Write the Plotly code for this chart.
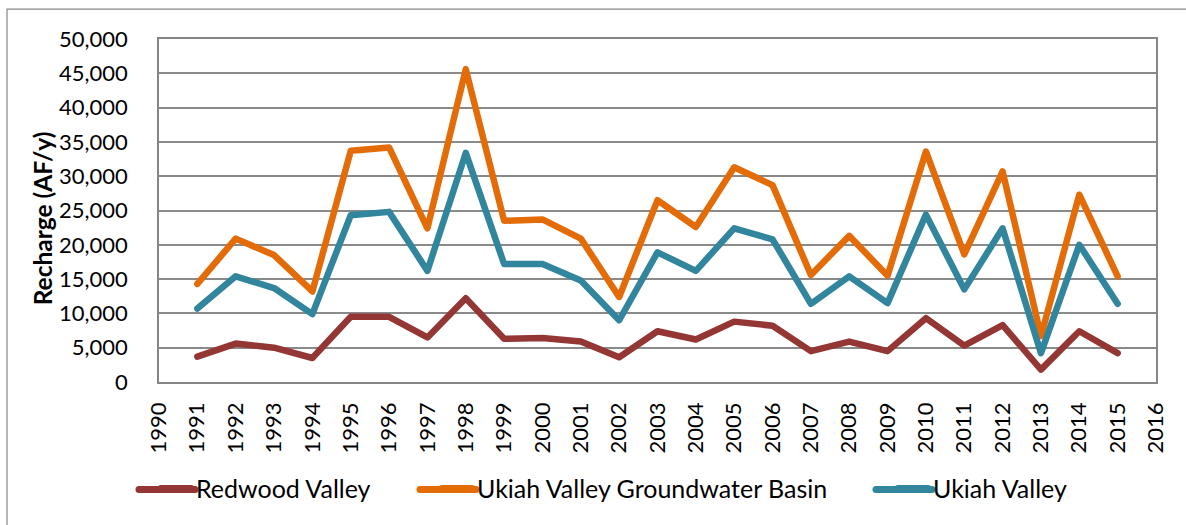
import plotly.graph_objects as go

years = list(range(1991, 2016))
redwood = [3700, 5600, 5000, 3500, 9500, 9500, 6500, 12200, 6300, 6400, 5900, 3600,
           7400, 6200, 8800, 8200, 4500, 5900, 4500, 9300, 5300, 8300, 1800, 7400, 4200]
ukiah_gw = [14300, 20900, 18500, 13200, 33700, 34200, 22400, 45600, 23500, 23700, 20900, 12400,
            26500, 22600, 31300, 28700, 15600, 21300, 15500, 33600, 18600, 30700, 6700, 27300, 15400]
ukiah = [10700, 15400, 13700, 9900, 24300, 24800, 16200, 33400, 17200, 17200, 14800, 9000,
         18900, 16200, 22400, 20800, 11400, 15400, 11500, 24400, 13500, 22400, 4200, 20000, 11400]
series_names = ["Redwood Valley", "Ukiah Valley Groundwater Basin", "Ukiah Valley"]
tick_years = list(range(1990, 2017))
y_ticks = list(range(0, 50001, 5000))

colors = ["#943634", "#E36C09", "#31859C"]
FONT = "Lato"

W, H = 1186, 525
L, R, T, B = 159, 1156, 39, 382.3

def px_x(p):
    return (p - L) / (R - L)

def px_y(p):
    return (B - p) / (B - T)

fig = go.Figure()
legend_text_x = [198, 479, 935]
legend_y = 489
legend_keys = ["legend", "legend2", "legend3"]
for name, vals, c, lk in zip(series_names, [redwood, ukiah_gw, ukiah], colors, legend_keys):
    fig.add_trace(go.Scatter(x=years, y=vals, name=name, mode="lines",
                             line=dict(color=c, width=6.5), legend=lk))

legend_common = dict(orientation="h", yanchor="middle", xanchor="left",
                     font=dict(family=FONT, size=25, color="#000000"),
                     bgcolor="rgba(0,0,0,0)")
layout_legends = {}
for lk, tx in zip(legend_keys, legend_text_x):
    layout_legends[lk] = dict(x=px_x(tx - 42), y=px_y(legend_y), **legend_common)

# longer legend key samples, as in the reference
legend_key_shapes = [dict(type="line", xref="paper", yref="paper",
                          x0=px_x(tx - 59), x1=px_x(tx - 3),
                          y0=px_y(legend_y + 1), y1=px_y(legend_y + 1),
                          line=dict(color=c, width=7), layer="above")
                     for tx, c in zip(legend_text_x, colors)]

fig.update_layout(
    width=W, height=H,
    margin=dict(l=L, r=W - R, t=T, b=H - B, autoexpand=False),
    paper_bgcolor="white", plot_bgcolor="white",
    font=dict(family=FONT, size=22, color="#000000"),
    showlegend=True,
    **layout_legends,
    xaxis=dict(range=[1990, 2016], tickmode="array", tickvals=tick_years,
               ticktext=[str(y) for y in tick_years], tickangle=-90,
               showgrid=False, zeroline=False, showline=True, mirror=True,
               linecolor="#868686", linewidth=1.5, ticks="",
               ticklabelstandoff=10,
               tickfont=dict(family=FONT, size=22, color="#000000")),
    yaxis=dict(range=[0, 50000], tickmode="array", tickvals=y_ticks,
               ticktext=[f"{v:,}" for v in y_ticks],
               showgrid=True, gridcolor="#8a8a8a", gridwidth=1.5,
               zeroline=False, showline=True, mirror=True,
               linecolor="#868686", linewidth=1.5, ticks="",
               ticklabelstandoff=25,
               tickfont=dict(family=FONT, size=22, color="#000000")),
    annotations=[dict(text="<b>Recharge (AF/y)</b>", textangle=-90,
                      xref="paper", yref="paper", x=px_x(42.5), y=px_y(219),
                      xanchor="center", yanchor="middle", showarrow=False,
                      font=dict(family=FONT, size=24.5, color="#000000"))],
    shapes=[dict(type="rect", xref="paper", yref="paper",
                 x0=px_x(7), y0=px_y(560), x1=px_x(1220), y1=px_y(9),
                 line=dict(color="#868686", width=1.2), layer="below")] + legend_key_shapes,
)

post = """
document.body.style.margin='0';
var st = document.createElement('style');
st.textContent = '.scatterlayer path.js-line, .legendlines path, .shapelayer path {stroke-linejoin: round !important; stroke-linecap: round !important;}';
document.head.appendChild(st);
"""

fig.write_html("out.html", config={"displayModeBar": False}, post_script=post)
